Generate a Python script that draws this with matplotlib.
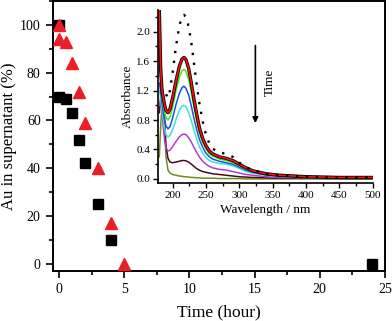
import numpy as np
import matplotlib
matplotlib.use("Agg")
import matplotlib.pyplot as plt
from matplotlib.ticker import MultipleLocator

plt.rcParams['font.family'] = ['Liberation Serif', 'DejaVu Serif']

# main plot: Au remaining in supernatant
t_square = [0, 0, 0.5, 1, 1.5, 2, 3, 4, 24]
au_square = [100, 70, 69, 63, 52, 42, 25, 10, 0]
t_tri = [0, 0, 0.5, 1, 1.5, 2, 3, 4, 5]
au_tri = [100, 94, 93, 84, 72, 59, 40, 17, 0]

# inset: UV-vis spectra
wl = [180, 182, 184, 186, 188, 190, 193, 196, 200, 205, 210, 214, 217, 220, 224, 228,
      232, 236, 240, 245, 250, 255, 260, 270, 280, 290, 300, 310, 320, 340, 360, 400, 450, 500]
abs_dot = [np.nan, np.nan, np.nan, np.nan, np.nan, 1.15, 1.1, 1.2, 1.45, 1.8, 2.08, 2.2, 2.23, 2.2,
           2.07, 1.85, 1.57, 1.28, 1.03, 0.78, 0.6, 0.48, 0.41, 0.36, 0.34, 0.3, 0.22, 0.16, 0.12,
           0.07, 0.05, 0.03, 0.02, 0.02]
abs_red = [2.3, 1.5, 1.2, 1.1, 1.0, 0.93, 0.9, 0.95, 1.1, 1.33, 1.53, 1.63, 1.65, 1.62, 1.5, 1.3,
           1.08, 0.88, 0.7, 0.55, 0.45, 0.38, 0.34, 0.3, 0.28, 0.25, 0.2, 0.15, 0.11, 0.07, 0.05,
           0.03, 0.02, 0.02]
abs_green = [1.75, 1.4, 1.15, 1.0, 0.9, 0.83, 0.8, 0.84, 0.98, 1.2, 1.38, 1.47, 1.49, 1.46, 1.35,
             1.17, 0.97, 0.79, 0.63, 0.5, 0.41, 0.34, 0.31, 0.27, 0.25, 0.22, 0.18, 0.13, 0.1,
             0.06, 0.045, 0.03, 0.02, 0.02]
abs_blue = [1.3, 1.2, 1.05, 0.9, 0.8, 0.72, 0.68, 0.71, 0.83, 1.01, 1.16, 1.24, 1.26, 1.23, 1.14,
            0.99, 0.82, 0.67, 0.54, 0.43, 0.35, 0.3, 0.27, 0.24, 0.22, 0.2, 0.16, 0.12, 0.09,
            0.055, 0.04, 0.025, 0.02, 0.02]
abs_cyan = [1.2, 1.1, 0.95, 0.8, 0.68, 0.6, 0.57, 0.59, 0.67, 0.81, 0.93, 0.99, 1.0, 0.98, 0.9,
            0.79, 0.66, 0.54, 0.44, 0.35, 0.29, 0.25, 0.23, 0.21, 0.2, 0.18, 0.14, 0.1, 0.08,
            0.05, 0.035, 0.02, 0.015, 0.015]
abs_mag = [1.0, 1.05, 0.9, 0.7, 0.52, 0.42, 0.38, 0.39, 0.44, 0.51, 0.57, 0.6, 0.61, 0.6, 0.56,
           0.5, 0.43, 0.36, 0.3, 0.24, 0.2, 0.17, 0.15, 0.13, 0.12, 0.1, 0.08, 0.06, 0.05, 0.03,
           0.02, 0.015, 0.01, 0.01]
abs_maroon = [0.9, 1.1, 1.25, 1.15, 0.8, 0.45, 0.28, 0.23, 0.22, 0.23, 0.24, 0.25, 0.25, 0.245,
              0.23, 0.2, 0.17, 0.14, 0.12, 0.1, 0.09, 0.08, 0.07, 0.06, 0.05, 0.04, 0.03, 0.025,
              0.02, 0.015, 0.01, 0.01, 0.005, 0.005]
abs_olive = [0.3, 0.7, 1.0, 1.1, 0.7, 0.3, 0.12, 0.08, 0.06, 0.05, 0.04, 0.035, 0.03, 0.03, 0.025,
             0.02, 0.02, 0.015, 0.015, 0.01, 0.01, 0.01, 0.01, 0.005, 0.005, 0.005, 0.005, 0.0,
             0.0, 0.0, 0.0, 0.0, 0.0, 0.0]

fig = plt.figure(figsize=(3.92, 3.21), dpi=100)
ax = fig.add_axes([0.134, 0.156, 0.848, 0.841])

ax.plot(t_square, au_square, 's', color='black', ms=6.5, ls='none', zorder=3)
ax.plot(t_tri, au_tri, '^', color='#ee1c25', ms=8, ls='none', zorder=4, clip_on=False)
ax.set_xlim(-0.5, 25)
ax.set_ylim(-3, 110)
ax.xaxis.set_major_locator(MultipleLocator(5))
ax.xaxis.set_minor_locator(MultipleLocator(2.5))
ax.yaxis.set_major_locator(MultipleLocator(20))
ax.yaxis.set_minor_locator(MultipleLocator(10))
ax.tick_params(which='both', direction='out', width=1.2, labelsize=10)
ax.tick_params(which='major', length=5)
ax.tick_params(which='minor', length=3)
for s in ax.spines.values():
    s.set_linewidth(1.4)
ax.set_xlabel('Time (hour)', fontsize=12.5, labelpad=6)
ax.set_ylabel('Au in supernatant (%)', fontsize=12)
ax.yaxis.set_label_coords(-0.108, 0.5)

# inset
ins = fig.add_axes([0.403, 0.430, 0.548, 0.540])
ins.plot(wl, abs_olive, color='#6b8e23', lw=1.1)
ins.plot(wl, abs_maroon, color='#4a0a1e', lw=1.1)
ins.plot(wl, abs_mag, color='#b43cc8', lw=1.1)
ins.plot(wl, abs_cyan, color='#3ce0d8', lw=1.1)
ins.plot(wl, abs_blue, color='#1e50dc', lw=1.1)
ins.plot(wl, abs_green, color='#44e81e', lw=1.1)
ins.plot(wl, abs_red, color='black', lw=2.4)
ins.plot(wl, abs_red, color='#ff1010', lw=1.2)
ins.plot(wl, abs_dot, color='black', lw=1.7, ls=(0, (1, 3.2)))
ins.set_xlim(178, 500)
ins.set_ylim(-0.055, 2.3)
ins.spines['top'].set_visible(False)
ins.spines['right'].set_visible(False)
for s in ['left', 'bottom']:
    ins.spines[s].set_linewidth(1.2)
ins.xaxis.set_major_locator(MultipleLocator(50))
ins.xaxis.set_minor_locator(MultipleLocator(25))
ins.yaxis.set_major_locator(MultipleLocator(0.4))
ins.yaxis.set_minor_locator(MultipleLocator(0.2))
ins.tick_params(which='both', direction='out', width=1, labelsize=8, pad=2)
ins.tick_params(which='major', length=3.5)
ins.tick_params(which='minor', length=2)
ins.yaxis.set_major_formatter(plt.FormatStrFormatter('%.1f'))
ins.set_xlabel('Wavelength / nm', fontsize=9.5, labelpad=3)
ins.set_ylabel('Absorbance', fontsize=9.5, labelpad=2)
ins.annotate('', xy=(324, 0.72), xytext=(324, 1.85),
             arrowprops=dict(arrowstyle='-|>', color='black', lw=1.2, mutation_scale=8))
ins.text(346, 1.31, 'Time', rotation=90, fontsize=9.5, ha='center', va='center')

fig.savefig('out.png', dpi=100)
